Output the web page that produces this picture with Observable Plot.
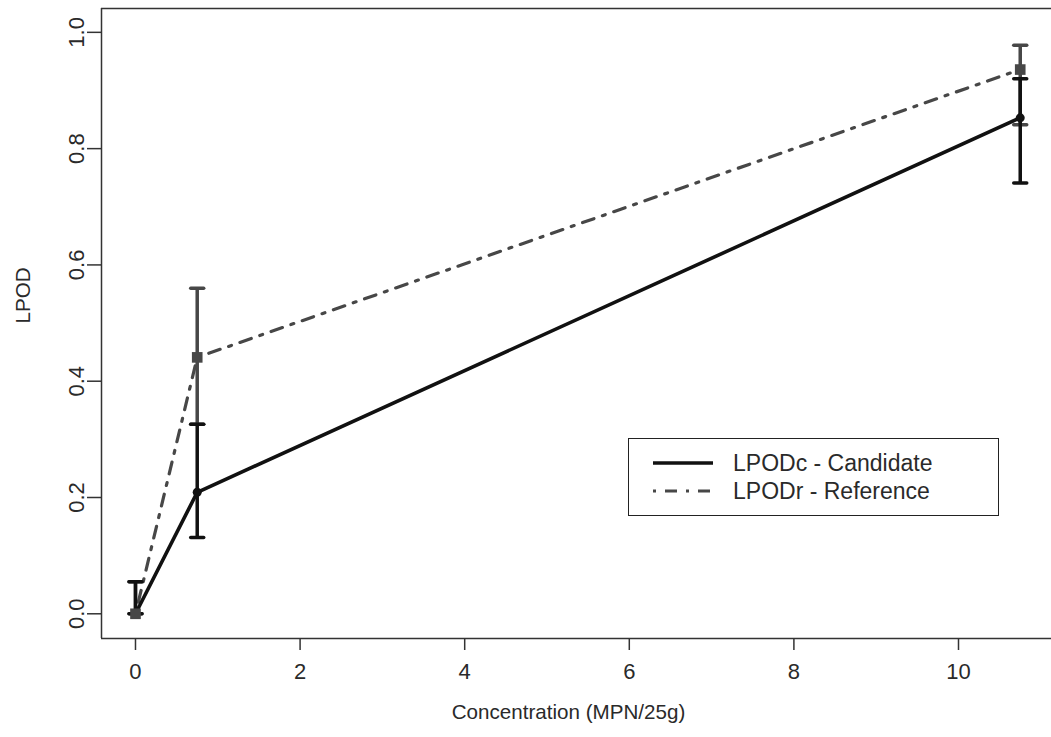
<!DOCTYPE html>
<html>
<head>
<meta charset="utf-8">
<script src="https://cdn.jsdelivr.net/npm/d3@7"></script>
<script src="https://cdn.jsdelivr.net/npm/@observablehq/plot@0.6"></script>
<style>
  html, body { margin: 0; padding: 0; background: white; }
  #wrap { position: relative; width: 1051px; height: 737px; font-family: "Liberation Sans", Arial, sans-serif; }
  #legend { position: absolute; left: 628px; top: 438px; width: 371px; height: 78px; box-sizing: border-box;
            border: 1.5px solid #222; background: white; }
  .row { position: absolute; left: 0; height: 26px; display: flex; align-items: center; }
  .row svg { margin-left: 24px; }
  .row span { margin-left: 20px; font-size: 23px; color: #2a2a2a; white-space: nowrap; }
</style>
</head>
<body>
<div id="wrap"></div>
<script>
// ---- data ----
const concentration = [0, 0.75, 10.75];
const candidate     = [0, 0.209, 0.853];
const candidateLow  = [0, 0.131, 0.741];
const candidateHigh = [0.055, 0.326, 0.92];
const reference     = [0, 0.441, 0.936];
const referenceLow  = [0, 0.326, 0.841];
const referenceHigh = [0.055, 0.56, 0.978];
const xTicks = [0, 2, 4, 6, 8, 10];
const yTicks = [0, 0.2, 0.4, 0.6, 0.8, 1.0];
const seriesNames = ["LPODc - Candidate", "LPODr - Reference"];
const xLabel = "Concentration (MPN/25g)";
const yLabel = "LPOD";
const xDomain = [-0.413, 11.13];
const yDomain = [-0.0425, 1.041];

// ---- styles ----
const candColor = "#111111";
const refColor = "#474747";
const refDash = "3,9,12,9";

const cand = concentration.map((x, i) => ({x, y: candidate[i], lo: candidateLow[i], hi: candidateHigh[i]}));
const ref = concentration.map((x, i) => ({x, y: reference[i], lo: referenceLow[i], hi: referenceHigh[i]}));

const capSymbol = {
  draw(context, size) {
    const r = Math.sqrt(size / Math.PI);
    context.moveTo(-r, 0);
    context.lineTo(r, 0);
  }
};

const chart = Plot.plot({
  width: 1051,
  height: 737,
  marginTop: 8,
  marginBottom: 99,
  marginLeft: 101,
  marginRight: 0,
  style: {fontFamily: "'Liberation Sans', Arial, sans-serif", fontSize: "22px", color: "#2a2a2a", background: "white"},
  x: {domain: xDomain},
  y: {domain: yDomain},
  marks: [
    Plot.axisX({ticks: xTicks, tickSize: 12, tickPadding: 13, tickFormat: d => String(d), label: null, stroke: "#333", strokeWidth: 1.5, fontSize: 22}),
    Plot.axisY({ticks: yTicks, tickSize: 14, tickPadding: 4, tickRotate: -90, tickFormat: d => d.toFixed(1), label: null, stroke: "#333", strokeWidth: 1.5, fontSize: 22}),
    Plot.ruleX([xDomain[0]], {stroke: "#333", strokeWidth: 1.5}),
    Plot.ruleY([yDomain[0], yDomain[1]], {stroke: "#333", strokeWidth: 1.5}),
    Plot.text([xLabel], {frameAnchor: "bottom", dy: 80, dx: -8, text: d => d, fontSize: 20.6, fill: "#2a2a2a"}),
    Plot.text([yLabel], {frameAnchor: "left", dx: -78, rotate: -90, text: d => d, fontSize: 20.6, fill: "#2a2a2a"}),
    // reference series
    Plot.line(ref, {x: "x", y: "y", stroke: refColor, strokeWidth: 3.2, strokeDasharray: refDash}),
    Plot.ruleX(ref, {x: "x", y1: "lo", y2: "hi", stroke: refColor, strokeWidth: 3.5}),
    Plot.dot(ref, {x: "x", y: "hi", symbol: capSymbol, r: 6.5, stroke: refColor, strokeWidth: 3.5, strokeLinecap: "round", fill: "none"}),
    Plot.dot(ref, {x: "x", y: "lo", symbol: capSymbol, r: 6.5, stroke: refColor, strokeWidth: 3.5, strokeLinecap: "round", fill: "none"}),
    // candidate series
    Plot.line(cand, {x: "x", y: "y", stroke: candColor, strokeWidth: 3.6}),
    Plot.ruleX(cand, {x: "x", y1: "lo", y2: "hi", stroke: candColor, strokeWidth: 3.5}),
    Plot.dot(cand, {x: "x", y: "hi", symbol: capSymbol, r: 6.5, stroke: candColor, strokeWidth: 3.5, strokeLinecap: "round", fill: "none"}),
    Plot.dot(cand, {x: "x", y: "lo", symbol: capSymbol, r: 6.5, stroke: candColor, strokeWidth: 3.5, strokeLinecap: "round", fill: "none"}),
    Plot.dot(cand, {x: "x", y: "y", symbol: "circle", r: 4.5, fill: candColor}),
    Plot.dot(ref, {x: "x", y: "y", symbol: "square", r: 6, fill: refColor})
  ]
});

const wrap = document.getElementById("wrap");
wrap.appendChild(chart);

// legend
const legend = document.createElement("div");
legend.id = "legend";
const rows = [
  {name: seriesNames[0], color: candColor, dash: null, width: 3.6, top: 11},
  {name: seriesNames[1], color: refColor, dash: refDash, width: 3.2, top: 39}
];
rows.forEach(r => {
  const row = document.createElement("div");
  row.className = "row";
  row.style.top = r.top + "px";
  row.innerHTML = `<svg width="60" height="10"><line x1="0" y1="5" x2="60" y2="5" stroke="${r.color}" stroke-width="${r.width}" ${r.dash ? `stroke-dasharray="${r.dash}"` : ""}/></svg><span>${r.name}</span>`;
  legend.appendChild(row);
});
wrap.appendChild(legend);
</script>
</body>
</html>
